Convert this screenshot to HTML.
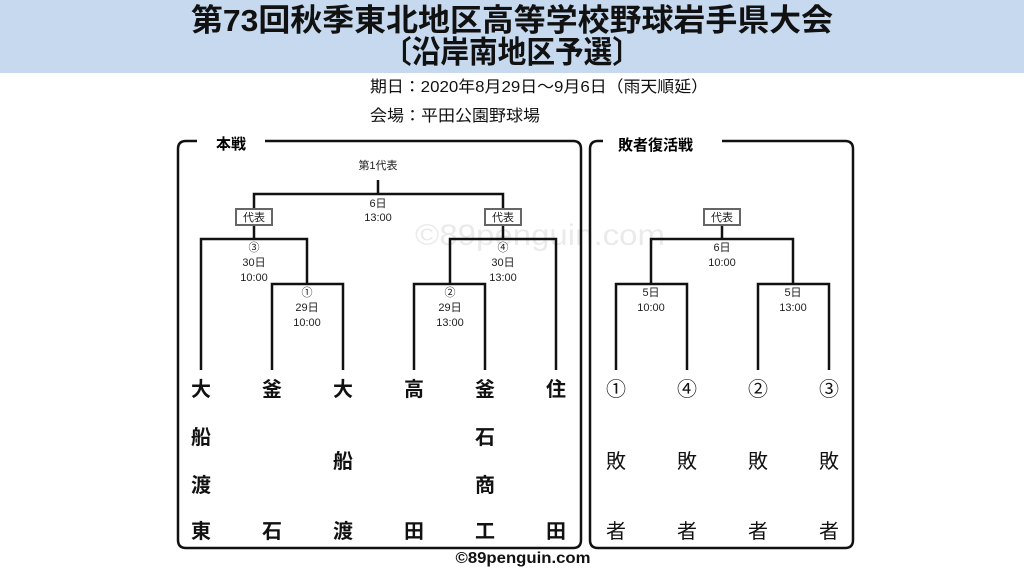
<!DOCTYPE html>
<html><head><meta charset="utf-8"><style>
body{margin:0;width:1024px;height:576px;background:#fff;overflow:hidden}
svg{display:block}
text{font-family:"Liberation Sans","Noto Sans CJK JP",sans-serif}
</style></head><body>
<svg width="1024" height="576" viewBox="0 0 1024 576">
<rect x="0" y="0" width="1024" height="73" fill="#c6d9ef"/>
<text x="512" y="31" text-anchor="middle" font-size="31" font-weight="bold" fill="#111" textLength="642" lengthAdjust="spacingAndGlyphs">第73回秋季東北地区高等学校野球岩手県大会</text>
<text x="512" y="63" text-anchor="middle" font-size="31" font-weight="bold" fill="#111" textLength="258" lengthAdjust="spacingAndGlyphs">〔沿岸南地区予選〕</text>
<text x="370" y="92" font-size="16" fill="#111" textLength="338" lengthAdjust="spacingAndGlyphs">期日：2020年8月29日～9月6日（雨天順延）</text>
<text x="370" y="121" font-size="16" fill="#111" textLength="170" lengthAdjust="spacingAndGlyphs">会場：平田公園野球場</text>
<text x="540" y="245" text-anchor="middle" font-size="30" fill="#000" opacity="0.08" textLength="250" lengthAdjust="spacingAndGlyphs">©89penguin.com</text>
<g fill="none" stroke="#111" stroke-width="2.5">
<path d="M197 141 H186 Q178 141 178 149 V540 Q178 548 186 548 H573 Q581 548 581 540 V149 Q581 141 573 141 H265"/>
<path d="M603 141 H598 Q590 141 590 149 V540 Q590 548 598 548 H845 Q853 548 853 540 V149 Q853 141 845 141 H722"/>
</g>
<text x="216" y="149" font-size="15" font-weight="bold">本戦</text>
<text x="618" y="150" font-size="15" font-weight="bold">敗者復活戦</text>
<g fill="none" stroke="#111" stroke-width="2.5">
<path d="M378 180 V194 M254 209 V194 H503 V209"/>
<path d="M254 225 V239 M201 370 V239 H307 V284 M272 370 V284 H343 V370"/>
<path d="M503 225 V239 M556 370 V239 H450 V284 M414 370 V284 H485 V370"/>
<path d="M722 225 V239 M651 284 V239 H793 V284 M616 370 V284 H687 V370 M758 370 V284 H829 V370"/>
</g>
<g fill="#fff" stroke="#666" stroke-width="2">
<rect x="236" y="209" width="36" height="16"/><rect x="485" y="209" width="36" height="16"/><rect x="704" y="209" width="36" height="16"/>
</g>
<g font-size="11" text-anchor="middle" fill="#222">
<text x="254" y="221">代表</text><text x="503" y="221">代表</text><text x="722" y="221">代表</text>
<text x="378" y="169">第1代表</text>
<text x="378" y="207">6日</text><text x="378" y="221">13:00</text>
<text x="254" y="251">③</text><text x="254" y="266">30日</text><text x="254" y="281">10:00</text>
<text x="503" y="251">④</text><text x="503" y="266">30日</text><text x="503" y="281">13:00</text>
<text x="307" y="296">①</text><text x="307" y="311">29日</text><text x="307" y="326">10:00</text>
<text x="450" y="296">②</text><text x="450" y="311">29日</text><text x="450" y="326">13:00</text>
<text x="722" y="251">6日</text><text x="722" y="266">10:00</text>
<text x="651" y="296">5日</text><text x="651" y="311">10:00</text>
<text x="793" y="296">5日</text><text x="793" y="311">13:00</text>
</g>
<g font-size="20" font-weight="bold" text-anchor="middle" fill="#111">
<text x="201" y="396">大</text><text x="201" y="444">船</text><text x="201" y="492">渡</text><text x="201" y="538">東</text>
<text x="272" y="396">釜</text><text x="272" y="538">石</text>
<text x="343" y="396">大</text><text x="343" y="468">船</text><text x="343" y="538">渡</text>
<text x="414" y="396">高</text><text x="414" y="538">田</text>
<text x="485" y="396">釜</text><text x="485" y="444">石</text><text x="485" y="492">商</text><text x="485" y="538">工</text>
<text x="556" y="396">住</text><text x="556" y="538">田</text>
</g>
<g font-size="20" text-anchor="middle" fill="#111">
<text x="616" y="396">①</text><text x="687" y="396">④</text><text x="758" y="396">②</text><text x="829" y="396">③</text>
<text x="616" y="468">敗</text><text x="687" y="468">敗</text><text x="758" y="468">敗</text><text x="829" y="468">敗</text>
<text x="616" y="538">者</text><text x="687" y="538">者</text><text x="758" y="538">者</text><text x="829" y="538">者</text>
</g>
<text x="523" y="563" text-anchor="middle" font-size="16" font-weight="bold" fill="#111" textLength="135" lengthAdjust="spacingAndGlyphs">©89penguin.com</text>
</svg>
</body></html>
